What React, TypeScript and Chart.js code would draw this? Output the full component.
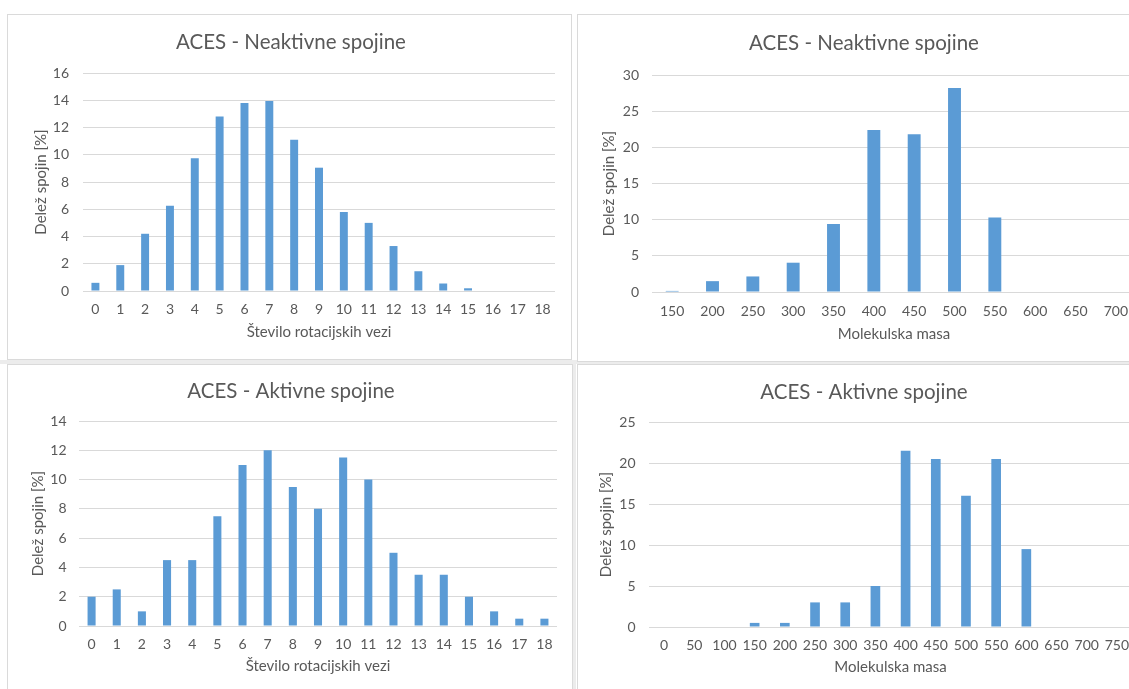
import React, { useEffect, useRef } from 'react';
import { Chart, registerables } from 'chart.js';

Chart.register(...registerables);

// ---------- data ----------
const rotCategories = ['0', '1', '2', '3', '4', '5', '6', '7', '8', '9', '10', '11', '12', '13', '14', '15', '16', '17', '18'];
const neaktivneRot = [0.6, 1.9, 4.2, 6.25, 9.75, 12.8, 13.8, 13.95, 11.1, 9.05, 5.8, 5.0, 3.3, 1.45, 0.55, 0.2, 0, 0, 0];
const aktivneRot = [2, 2.5, 1, 4.5, 4.5, 7.5, 11, 12, 9.5, 8, 11.5, 10, 5, 3.5, 3.5, 2, 1, 0.5, 0.5];

const massCategoriesNeaktivne = ['150', '200', '250', '300', '350', '400', '450', '500', '550', '600', '650', '700'];
const neaktivneMass = [0.15, 1.5, 2.15, 4.05, 9.4, 22.4, 21.8, 28.2, 10.3, 0, 0, 0];

const massCategoriesAktivne = ['0', '50', '100', '150', '200', '250', '300', '350', '400', '450', '500', '550', '600', '650', '700', '750'];
const aktivneMass = [0, 0, 0, 0.5, 0.5, 3, 3, 5, 21.5, 20.5, 16, 20.5, 9.5, 0, 0, 0];

const titleNeaktivne = 'ACES - Neaktivne spojine';
const titleAktivne = 'ACES - Aktivne spojine';
const xTitleRot = 'Število rotacijskih vezi';
const xTitleMass = 'Molekulska masa';
const yTitle = 'Delež spojin [%]';

// ---------- styles ----------
const FONT = 'Lato, "Open Sans", "Noto Sans", sans-serif';
const TXT = '#595959';
const GRID = '#d9d9d9';
const BAR = '#5b9bd5';
const BORDER = '#dadada';

type Spec = {
  x: number; y: number; w: number; h: number;
  labels: string[]; values: number[];
  title: string; xTitle: string;
  ymax: number; step: number;
  pl: number; pr: number;
  tpt: number; tpb: number;
  yw: number; ytp: number; ytick: number;
  xh: number; xtick: number; xtb: number;
};

function BarPanel({ spec }: { spec: Spec }) {
  const ref = useRef<HTMLCanvasElement | null>(null);
  useEffect(() => {
    const tickFont = { family: FONT, size: 14 };
    const axisTitleFont = { family: FONT, size: 15 };
    const chart = new Chart(ref.current as HTMLCanvasElement, {
      type: 'bar',
      data: {
        labels: spec.labels,
        datasets: [{
          data: spec.values,
          backgroundColor: BAR,
          categoryPercentage: 1,
          barPercentage: 0.32,
        }],
      },
      options: {
        responsive: false,
        animation: false,
        devicePixelRatio: 1,
        layout: { padding: { left: spec.pl, right: spec.pr, top: 0, bottom: 0 } },
        plugins: {
          legend: { display: false },
          tooltip: { enabled: false },
          title: {
            display: true,
            text: spec.title,
            color: TXT,
            font: { family: FONT, size: 20.5, weight: 'normal' as any },
            padding: { top: spec.tpt, bottom: spec.tpb },
          },
        },
        scales: {
          x: {
            grid: { display: false, drawTicks: false },
            border: { display: false },
            ticks: { color: TXT, font: tickFont, padding: spec.xtick, maxRotation: 0, autoSkip: false },
            title: { display: true, text: spec.xTitle, color: TXT, font: axisTitleFont, padding: { top: 0, bottom: spec.xtb } },
            afterFit: (s: any) => { s.height = spec.xh; },
          },
          y: {
            min: 0,
            max: spec.ymax,
            ticks: { stepSize: spec.step, color: TXT, font: tickFont, padding: spec.ytick },
            grid: { color: GRID, lineWidth: 1, drawTicks: false },
            border: { display: false },
            title: { display: true, text: yTitle, color: TXT, font: axisTitleFont, padding: { top: spec.ytp, bottom: 0 } },
            afterFit: (s: any) => { s.width = spec.yw; },
          },
        },
      },
    });
    return () => chart.destroy();
  }, [spec]);
  return (
    <canvas
      ref={ref}
      width={spec.w}
      height={spec.h}
      style={{ position: 'absolute', left: spec.x, top: spec.y, width: spec.w, height: spec.h }}
    />
  );
}

const specTL: Spec = {
  x: 8, y: 15, w: 563, h: 343,
  labels: rotCategories, values: neaktivneRot,
  title: titleNeaktivne, xTitle: xTitleRot,
  ymax: 16, step: 2,
  pl: 19, pr: 16, tpt: 14.7, tpb: 18.7,
  yw: 56, ytp: 5, ytick: 14,
  xh: 67, xtick: 9.6, xtb: 17,
};

const specTR: Spec = {
  x: 578, y: 15, w: 570, h: 345,
  labels: massCategoriesNeaktivne, values: neaktivneMass,
  title: titleNeaktivne, xTitle: xTitleMass,
  ymax: 30, step: 5,
  pl: 14, pr: 12, tpt: 15.7, tpb: 19.7,
  yw: 60, ytp: 8, ytick: 13,
  xh: 68, xtick: 10.6, xtb: 17,
};

const specBL: Spec = {
  x: 8, y: 365, w: 564, h: 324,
  labels: rotCategories, values: aktivneRot,
  title: titleAktivne, xTitle: xTitleRot,
  ymax: 14, step: 2,
  pl: 17, pr: 15, tpt: 13.7, tpb: 17.7,
  yw: 54, ytp: 4, ytick: 12.5,
  xh: 63, xtick: 9.6, xtb: 14,
};

const specBR: Spec = {
  x: 578, y: 365, w: 570, h: 324,
  labels: massCategoriesAktivne, values: aktivneMass,
  title: titleAktivne, xTitle: xTitleMass,
  ymax: 25, step: 5,
  pl: 18, pr: 16, tpt: 14.7, tpb: 17.7,
  yw: 53, ytp: 1, ytick: 13.5,
  xh: 62, xtick: 9.6, xtb: 13,
};

const boxStyle = (left: number, top: number, width: number, height: number): React.CSSProperties => ({
  position: 'absolute', left, top, width, height,
  border: `1.5px solid ${BORDER}`, boxSizing: 'border-box', background: '#fff',
});

export default function App() {
  return (
    <div style={{ position: 'fixed', left: 0, top: 0, width: 1129, height: 689, overflow: 'hidden', background: '#fff' }}>
      <div style={{ position: 'absolute', left: 0, top: 360, width: 1129, height: 4, background: '#ececec' }} />
      <div style={{ position: 'absolute', left: 572, top: 360, width: 4, height: 340, background: '#ececec' }} />
      <div style={boxStyle(7, 14, 565, 346)} />
      <div style={boxStyle(577, 14, 580, 348)} />
      <div style={boxStyle(7, 364, 566, 340)} />
      <div style={boxStyle(577, 364, 580, 340)} />
      <BarPanel spec={specTL} />
      <BarPanel spec={specTR} />
      <BarPanel spec={specBL} />
      <BarPanel spec={specBR} />
    </div>
  );
}
